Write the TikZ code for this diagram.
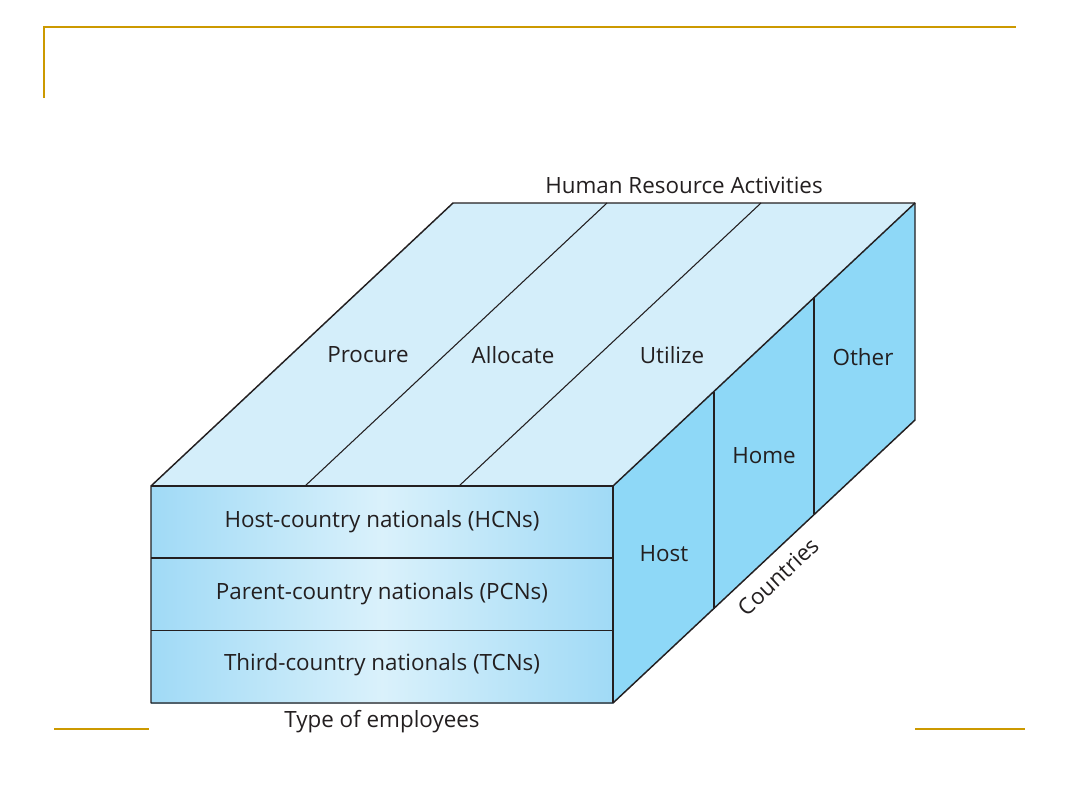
\documentclass[tikz,border=0pt]{standalone}
\usepackage{fontspec}
\setmainfont{Open Sans}
\usetikzlibrary{calc}
\definecolor{hrgold}{RGB}{204,153,0}
\definecolor{topblue}{RGB}{212,238,250}
\definecolor{sideblue}{RGB}{142,216,247}
\definecolor{frontedge}{RGB}{160,218,246}
\definecolor{frontmid}{RGB}{218,241,251}
\definecolor{inkgray}{RGB}{35,31,32}

\begin{document}
\begin{tikzpicture}[x=0.75pt,y=-0.75pt]
  \tikzset{
    lbl/.style={font=\fontsize{16.8}{19}\selectfont, text=inkgray, inner sep=0pt},
    edge/.style={draw=inkgray, line width=1.1pt, line join=round},
    thin/.style={draw=inkgray, line width=0.8pt},
    thick/.style={draw=inkgray, line width=1.6pt},
    rule/.style={draw=hrgold, line width=1.5pt}
  }
  \useasboundingbox (0,0) rectangle (1080,810);

  % - slide rules ---
  \draw[rule, line width=2pt] (44,98) -- (44,27) -- (1016,27);
  \draw[rule] (54,729) -- (149,729);
  \draw[rule] (915,729) -- (1025,729);

  % - box corners ---
  \coordinate (fTL) at (151,486);
  \coordinate (fTR) at (613,486);
  \coordinate (fBL) at (151,703);
  \coordinate (fBR) at (613,703);
  \coordinate (bTL) at (453,203);
  \coordinate (bTR) at (915,203);
  \coordinate (bBR) at (915,420);

  % - faces ---
  \fill[topblue] (fTL) -- (fTR) -- (bTR) -- (bTL) -- cycle;
  \fill[sideblue] (fTR) -- (bTR) -- (bBR) -- (fBR) -- cycle;
  \shade[left color=frontedge, right color=frontedge, middle color=frontmid] (fTL) rectangle (fBR);

  % - dividers ---
  \foreach \f in {1/3,2/3} {
    \draw[thin] ($(fTL)!\f!(fTR)$) -- ($(bTL)!\f!(bTR)$);
    \draw[thick] ($(fTR)!\f!(bTR)$) -- ($(fBR)!\f!(bBR)$);
  }
  \draw[thick] ($(fTL)!1/3!(fBL)$) -- ($(fTR)!1/3!(fBR)$);
  \draw[thin] ($(fTL)!2/3!(fBL)$) -- ($(fTR)!2/3!(fBR)$);

  % - outline ---
  \draw[edge] (fTL) -- (bTL) -- (bTR) -- (bBR) -- (fBR) -- (fBL) -- cycle;
  \draw[edge] (fTL) -- (fTR) -- (fBR);
  \draw[edge] (fTR) -- (bTR);

  % - labels ---
  \node[lbl] (hra) at (684,185) {Human Resource Activities};
  \node[lbl] (procure) at (368,355) {Procure};
  \node[lbl] (allocate) at (513,355) {Allocate};
  \node[lbl] (utilize) at (672,355) {Utilize};
  \node[lbl] (other) at (863,357) {Other};
  \node[lbl] (home) at (764,456) {Home};
  \node[lbl] (host) at (664,554) {Host};

  \node[lbl] (hcn) at (382,522) {Host-country nationals (HCNs)};
  \node[lbl] (pcn) at (382,594) {Parent-country nationals (PCNs)};
  \node[lbl] (tcn) at (382,665) {Third-country nationals (TCNs)};
  \node[lbl] (type) at (382,722) {Type of employees};

  \path (fBR) -- (bBR) node[lbl, pos=0.5, sloped, below=9pt] (countries) {Countries};
\end{tikzpicture}
\end{document}
